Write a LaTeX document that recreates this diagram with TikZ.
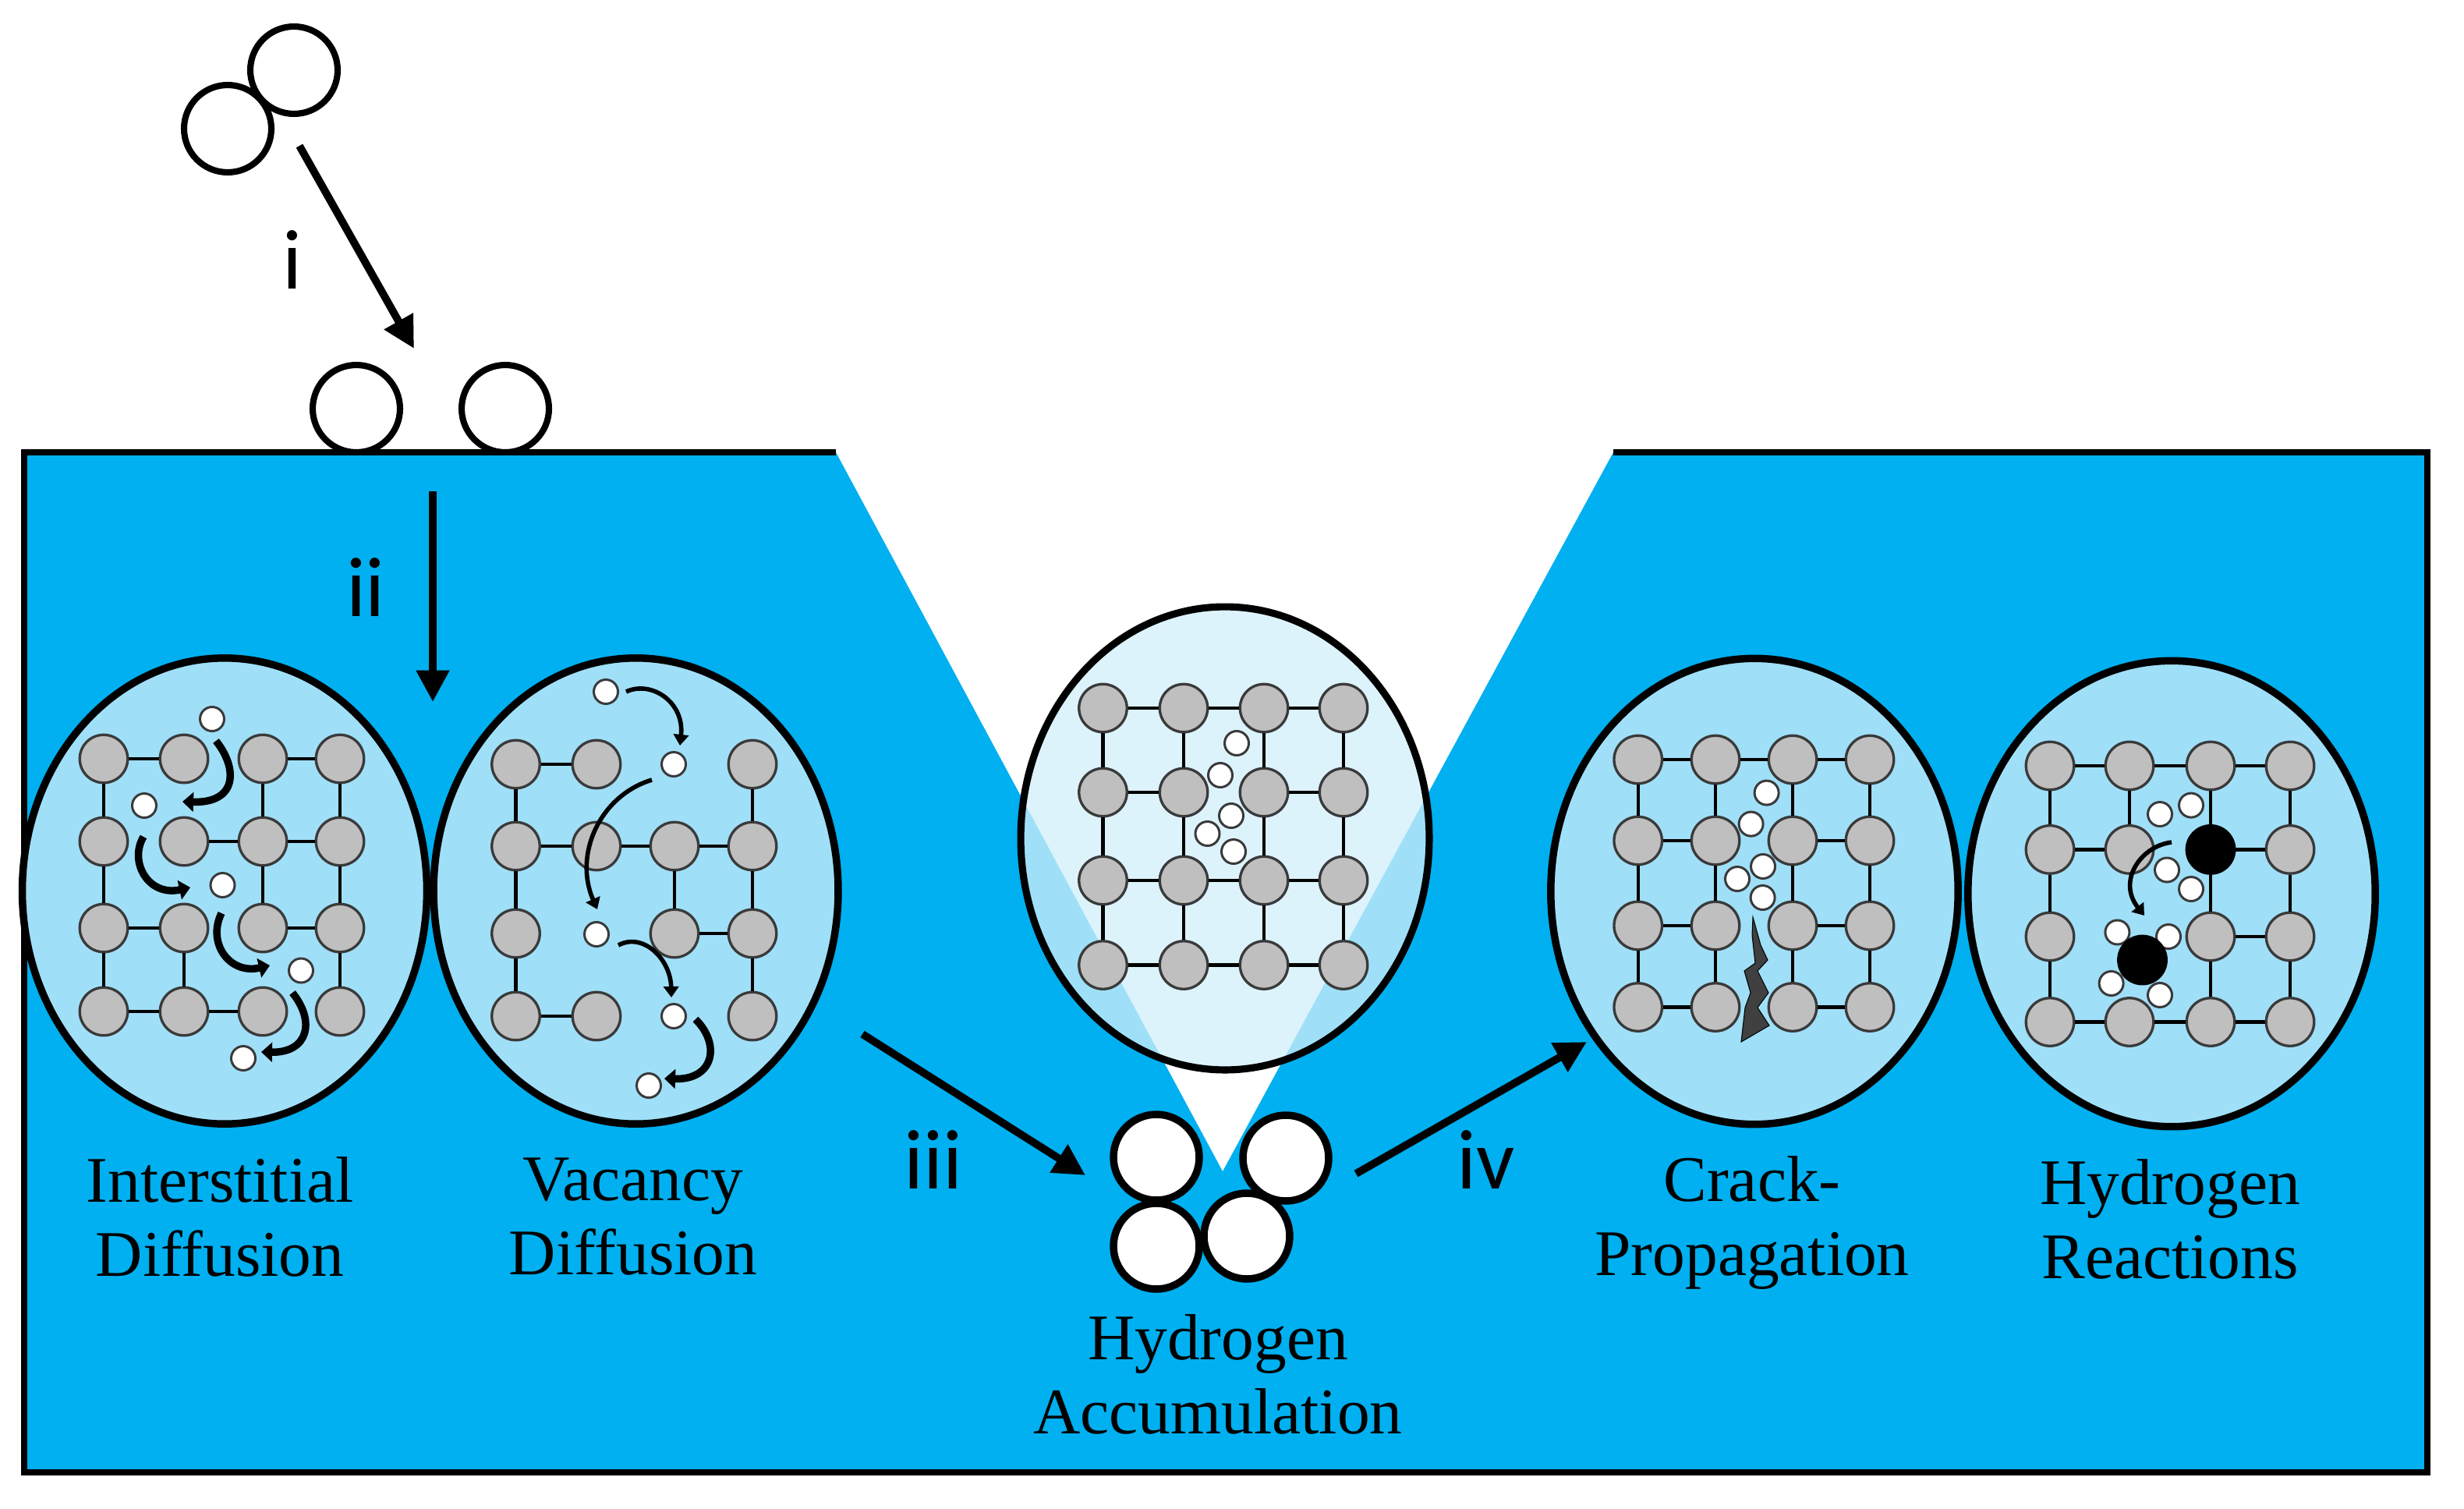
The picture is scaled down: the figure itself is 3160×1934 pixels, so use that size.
\documentclass[tikz,border=0pt]{standalone}
\usepackage{fontspec}
\setmainfont{Liberation Serif}
\newfontfamily\lblfont{Carlito}
\usetikzlibrary{arrows.meta,shapes.geometric}
\definecolor{steel}{HTML}{00B0F0}
\definecolor{pale}{HTML}{A0DFF8}
\definecolor{glass}{RGB}{209,239,251}
\definecolor{atomgrey}{HTML}{BFBFBF}
\definecolor{edge}{HTML}{3A3A3A}
\definecolor{crackgrey}{HTML}{404040}
\tikzset{
  x=0.02cm,y=-0.02cm,
  atom/.style={circle,draw=edge,line width=1.9pt,fill=atomgrey,inner sep=0pt,minimum size=1.23cm},
  hyd/.style={circle,draw=edge,line width=1.7pt,fill=white,inner sep=0pt,minimum size=0.62cm},
  bond/.style={draw=black,line width=2.4pt},
  lens/.style={ellipse,draw=black,line width=5.4pt,fill=pale,inner sep=0pt,minimum width=10.38cm,minimum height=11.95cm},
  mol/.style={circle,draw=black,line width=4.6pt,inner sep=0pt,minimum size=2.24cm},
  big/.style={circle,draw=black,line width=5.4pt,fill=white,inner sep=0pt,minimum size=2.2cm},
  flow/.style={draw=black,line width=5.6pt,-{Triangle[length=23pt,width=23pt]}},
  hop/.style={draw=black,line width=5.4pt,-{Triangle[length=8pt,width=14pt]}},
  hopthin/.style={draw=black,line width=3.2pt,-{Triangle[length=8pt,width=11pt]}},
  caption/.style={align=center,inner sep=0pt,font=\fontsize{47.5}{54}\selectfont},
  step label/.style={inner sep=0pt,font=\lblfont\fontsize{62}{62}\selectfont},
}
\newcommand\atoms[4]{\foreach \rr/\cc in {#4}{%
  \pgfmathsetmacro\xx{{#2}[\cc]}\pgfmathsetmacro\yy{{#3}[\rr]}%
  \node[atom] (#1r\rr c\cc) at (\xx,\yy) {};}}
\newcommand\bonds[2]{\foreach \aa/\bb in {#2}{\draw[bond] (#1\aa) -- (#1\bb);}}
\begin{document}
\begin{tikzpicture}
\useasboundingbox (0,0) rectangle (3160,1934);
% molecules above the surface
\node[mol] (m1) at (377,90) {};
\node[mol] (m2) at (292,165) {};
\node[mol] (s1) at (457,524) {};
\node[mol] (s2) at (648,524) {};
% block
\fill[steel] (31,580) -- (1072,580) -- (1568,1502) -- (2069,580) -- (3113,580) -- (3113,1888) -- (31,1888) -- cycle;
\draw[black,line width=5pt,line join=miter] (1072,580) -- (31,580) -- (31,1888) -- (3113,1888) -- (3113,580) -- (2069,580);
% flow arrows i, ii
\coordinate (i0) at (384,187); \coordinate (i1) at (531,447);
\coordinate (ii0) at (555,630); \coordinate (ii1) at (555,900);
\draw[flow] (i0) -- (i1);
\draw[flow] (ii0) -- (ii1);
\node[step label] (li) at (375,333) {i};
\node[step label] (lii) at (469,753) {ii};
% lens 1
\node[lens] (e1) at (288,1142.5) {};
\atoms{a}{133,236,337,436}{973,1079,1190,1297}{0/0,0/1,0/2,0/3,1/0,1/1,1/2,1/3,2/0,2/1,2/2,2/3,3/0,3/1,3/2,3/3}
\bonds{a}{r0c0/r0c1,r0c2/r0c3,r1c1/r1c2,r1c2/r1c3,r2c0/r2c1,r2c2/r2c3,r3c0/r3c1,r3c1/r3c2,r0c0/r1c0,r1c0/r2c0,r2c0/r3c0,r2c1/r3c1,r0c2/r1c2,r1c2/r2c2,r0c3/r1c3,r1c3/r2c3,r2c3/r3c3}
\node[hyd] (ah1) at (272,922) {};
\node[hyd] (ah2) at (185,1033) {};
\node[hyd] (ah3) at (285.5,1135) {};
\node[hyd] (ah4) at (386,1244.5) {};
\node[hyd] (ah5) at (312,1357) {};
\coordinate (ac1a) at (277,950); \coordinate (ac1b) at (234,1028);
\coordinate (ac2a) at (184,1073); \coordinate (ac2b) at (244,1138);
\coordinate (ac3a) at (284,1171); \coordinate (ac3b) at (346,1238);
\coordinate (ac4a) at (375,1273); \coordinate (ac4b) at (335,1349);
\draw[hop] (ac1a) .. controls (305,985) and (305,1030) .. (ac1b);
\draw[hop] (ac2a) .. controls (165,1105) and (190,1150) .. (ac2b);
\draw[hop] (ac3a) .. controls (265,1210) and (295,1250) .. (ac3b);
\draw[hop] (ac4a) .. controls (405,1310) and (395,1350) .. (ac4b);
% lens 2
\node[lens] (e2) at (815.5,1142.5) {};
\atoms{b}{661.5,765,865,965}{980,1085,1197,1303}{0/0,0/1,0/3,1/0,1/1,1/2,1/3,2/0,2/2,2/3,3/0,3/1,3/3}
\bonds{b}{r0c0/r0c1,r1c0/r1c1,r1c1/r1c2,r1c2/r1c3,r2c2/r2c3,r3c0/r3c1,r0c0/r1c0,r1c0/r2c0,r2c0/r3c0,r1c2/r2c2,r0c3/r1c3,r1c3/r2c3,r2c3/r3c3}
\node[hyd] (bh1) at (777,887) {};
\node[hyd] (bh2) at (864,980) {};
\node[hyd] (bh3) at (765,1198) {};
\node[hyd] (bh4) at (864,1303) {};
\node[hyd] (bh5) at (832,1392) {};
\coordinate (bc1a) at (803,887); \coordinate (bc1b) at (872,956);
\coordinate (bc2a) at (836,1000); \coordinate (bc2b) at (766,1166);
\coordinate (bc3a) at (793,1212); \coordinate (bc3b) at (861,1279);
\coordinate (bc4a) at (892,1307); \coordinate (bc4b) at (852,1383);
\draw[hopthin] (bc1a) .. controls (835,872) and (878,900) .. (bc1b);
\draw[hopthin] (bc2a) .. controls (770,1020) and (735,1095) .. (bc2b);
\draw[hopthin] (bc3a) .. controls (825,1195) and (860,1230) .. (bc3b);
\draw[hop] (bc4a) .. controls (925,1340) and (915,1385) .. (bc4b);
% centre lens
\node[ellipse,draw=black,line width=5.2pt,fill=glass,fill opacity=.765,draw opacity=1,inner sep=0pt,minimum width=10.48cm,minimum height=11.88cm] (e0) at (1571,1075) {};
\atoms{c}{1414.5,1518,1621,1723}{908,1016,1129,1237.5}{0/0,0/1,0/2,0/3,1/0,1/1,1/2,1/3,2/0,2/1,2/2,2/3,3/0,3/1,3/2,3/3}
\bonds{c}{r0c0/r0c1,r0c1/r0c2,r0c2/r0c3,r1c0/r1c1,r1c2/r1c3,r2c0/r2c1,r2c1/r2c2,r2c2/r2c3,r3c0/r3c1,r3c1/r3c2,r3c2/r3c3,r0c0/r1c0,r1c0/r2c0,r2c0/r3c0,r0c1/r1c1,r1c1/r2c1,r2c1/r3c1,r0c2/r1c2,r1c2/r2c2,r2c2/r3c2,r0c3/r1c3,r1c3/r2c3,r2c3/r3c3}
\node[hyd] (ch1) at (1586,953) {};
\node[hyd] (ch2) at (1565,994) {};
\node[hyd] (ch3) at (1579,1046) {};
\node[hyd] (ch4) at (1548.5,1069) {};
\node[hyd] (ch5) at (1582,1092) {};
% accumulation
\node[big] (g1) at (1483,1484) {};
\node[big] (g2) at (1649,1485) {};
\node[big] (g3) at (1483,1598) {};
\node[big] (g4) at (1599,1585) {};
\coordinate (iii0) at (1106,1326); \coordinate (iii1) at (1392,1507);
\coordinate (iv0) at (1739,1505); \coordinate (iv1) at (2035,1336);
\draw[flow] (iii0) -- (iii1);
\draw[flow] (iv0) -- (iv1);
\node[step label] (liii) at (1197,1487) {iii};
\node[step label] (liv) at (1906,1487) {iv};
% lens 3
\node[lens,minimum width=10.45cm] (e3) at (2250,1143) {};
\atoms{d}{2100.7,2200,2299,2398}{974,1078,1187,1291.5}{0/0,0/1,0/2,0/3,1/0,1/1,1/2,1/3,2/0,2/1,2/2,2/3,3/0,3/1,3/2,3/3}
\bonds{d}{r0c0/r0c1,r0c1/r0c2,r0c2/r0c3,r1c0/r1c1,r1c2/r1c3,r2c0/r2c1,r2c2/r2c3,r3c0/r3c1,r3c2/r3c3,r0c0/r1c0,r1c0/r2c0,r2c0/r3c0,r0c1/r1c1,r1c1/r2c1,r2c1/r3c1,r0c2/r1c2,r1c2/r2c2,r2c2/r3c2,r0c3/r1c3,r1c3/r2c3,r2c3/r3c3}
\node[hyd] (dh1) at (2265.6,1016.6) {};
\node[hyd] (dh2) at (2245.6,1056.6) {};
\node[hyd] (dh3) at (2261,1111) {};
\node[hyd] (dh4) at (2228,1127) {};
\node[hyd] (dh5) at (2260.6,1151) {};
\fill[crackgrey,draw=black,line width=.6pt] (2248,1176) -- (2258,1212) -- (2267,1231) -- (2254,1245) -- (2268,1273) -- (2254,1292) -- (2269,1315) -- (2233,1336) -- (2238,1292) -- (2245,1273) -- (2237,1245) -- (2251,1235) -- (2247,1199) -- cycle;
% lens 4
\node[lens,minimum width=10.45cm] (e4) at (2785,1146) {};
\atoms{f}{2629,2731,2835,2937}{982,1089.4,1201,1310.5}{0/0,0/1,0/2,0/3,1/0,1/1,1/3,2/0,2/2,2/3,3/0,3/1,3/2,3/3}
\node[hyd] (fh1) at (2810,1032.6) {};
\node[hyd] (fh2) at (2770,1044) {};
\node[hyd] (fh3) at (2779,1115.5) {};
\node[hyd] (fh4) at (2810,1140) {};
\node[hyd] (fh5) at (2715.4,1195.5) {};
\node[hyd] (fh6) at (2781,1201) {};
\node[hyd] (fh7) at (2707.6,1261) {};
\node[hyd] (fh8) at (2770,1276) {};
\node[atom,fill=black,draw=black] (fr1c2) at (2835,1089.4) {};
\node[atom,fill=black,draw=black] (fr2c1) at (2747.5,1231) {};
\bonds{f}{r0c0/r0c1,r0c1/r0c2,r0c2/r0c3,r1c0/r1c1,r1c2/r1c3,r2c2/r2c3,r3c0/r3c1,r3c1/r3c2,r3c2/r3c3,r0c0/r1c0,r1c0/r2c0,r2c0/r3c0,r0c1/r1c1,r0c2/r1c2,r1c2/r2c2,r2c2/r3c2,r0c3/r1c3,r1c3/r2c3,r2c3/r3c3}
\coordinate (fc1a) at (2785,1080); \coordinate (fc1b) at (2750,1174);
\draw[hopthin] (fc1a) .. controls (2745,1085) and (2715,1130) .. (fc1b);
% captions
\node[caption] (t1) at (282,1560) {Interstitial\\Diffusion};
\node[caption] (t2) at (812,1560) {Vacancy\\Diffusion};
\node[caption] (t3) at (1562,1762) {Hydrogen\\Accumulation};
\node[caption] (t4) at (2247,1568) {Crack-\\Propagation};
\node[caption] (t5) at (2783,1563) {Hydrogen\\Reactions};
\end{tikzpicture}
\end{document}
